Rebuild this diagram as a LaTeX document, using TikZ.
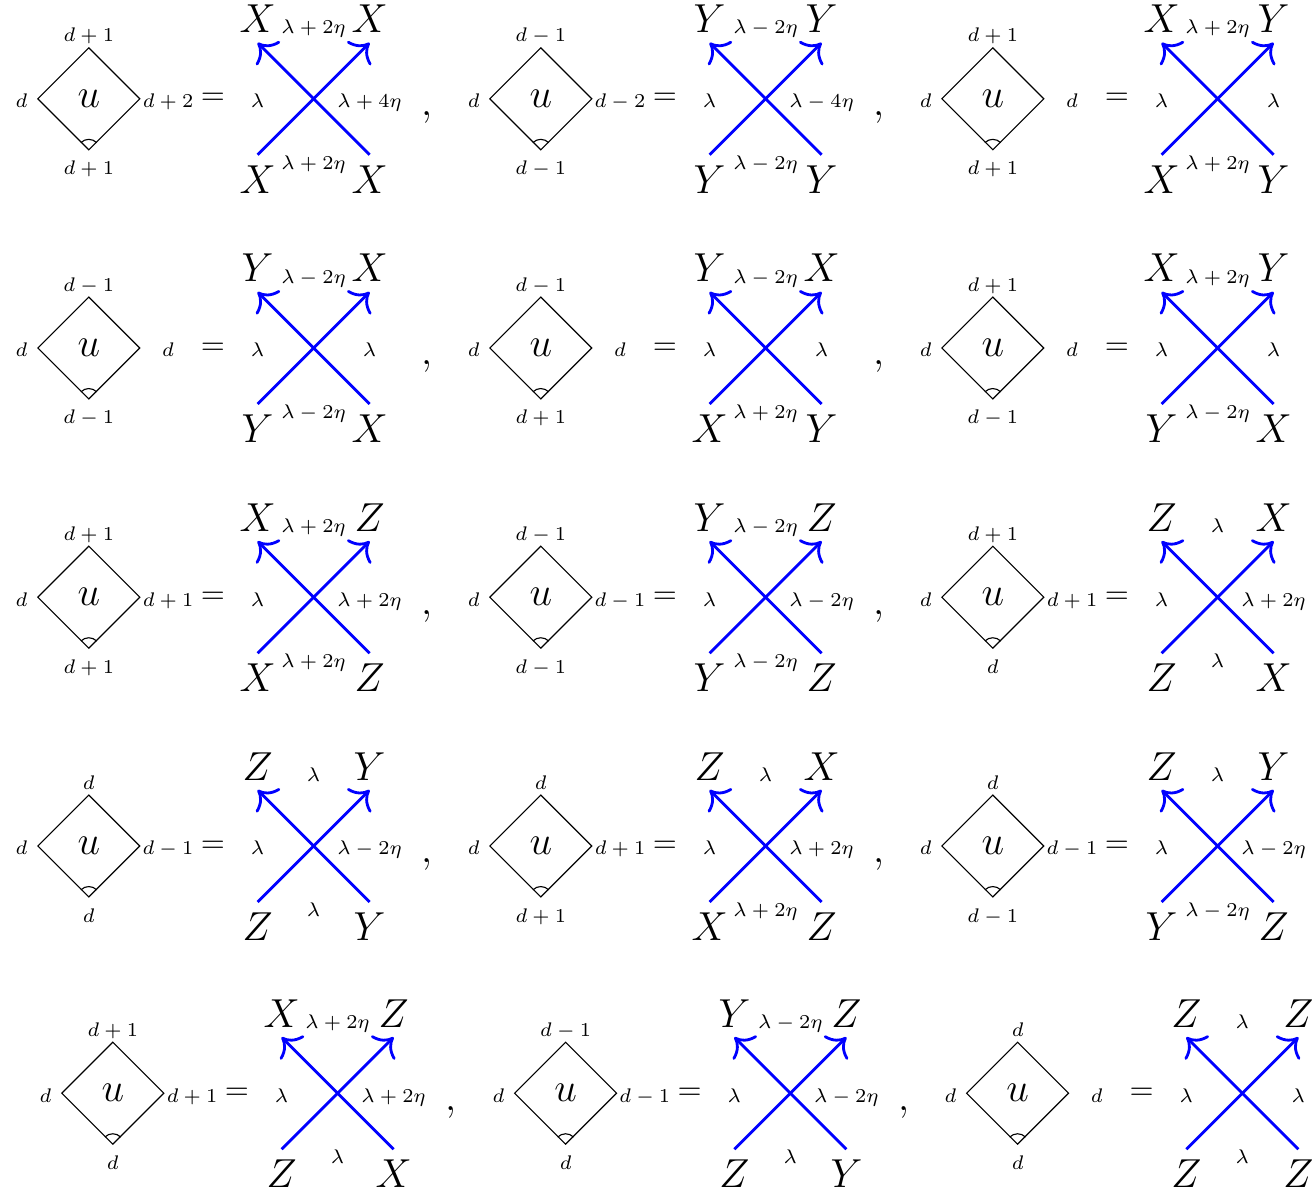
\RequirePackage{fix-cm}
\documentclass[tikz,border=0pt]{standalone}
\usetikzlibrary{shapes.geometric,arrows.meta}

\tikzset{
  face/.style={draw, shape=diamond, aspect=1, inner sep=0pt, minimum size=1.28cm, font=\Large},
  hlab/.style={inner sep=0pt, font=\scriptsize},
  eqsign/.style={inner sep=0pt, font=\fontsize{11}{13}\selectfont},
  sepcomma/.style={inner sep=0pt, font=\Large},
  corner/.style={inner sep=0pt, font=\Large},
  strand/.style={blue, line width=1pt, -{To[scale=1.5]}},
}

% face with its heights: name, position, top, bottom, right
\newcommand{\plaq}[5]{%
  \node[face] (#1) at (#2) {$u$};
  \draw ([shift={(45:0.14)}]#1.south) arc (45:135:0.14);
  \node[hlab, anchor=base] (#1t) at ([yshift=0.71cm]#1.center) {$#3$};
  \node[hlab, anchor=base] (#1b) at ([yshift=-0.95cm]#1.center) {$#4$};
  \node[hlab, anchor=base] (#1l) at ([shift={(-0.84,-0.11)}]#1.center) {$d$};
  \node[hlab, anchor=base] (#1r) at ([shift={(0.99,-0.11)}]#1.center) {$#5$};
  \node[eqsign, anchor=base] (#1e) at ([shift={(1.55,-0.075)}]#1.center) {$=$};
}

% two crossing strands with their weights:
% name, position, corners (nw, ne, sw, se), weights (top, bottom, right)
\newcommand{\wcross}[9]{%
  \coordinate (#1) at (#2);
  \coordinate (#1sw) at ([shift={(-0.7,-0.7)}]#1);
  \coordinate (#1se) at ([shift={(0.7,-0.7)}]#1);
  \coordinate (#1nw) at ([shift={(-0.7,0.7)}]#1);
  \coordinate (#1ne) at ([shift={(0.7,0.7)}]#1);
  \draw[strand] (#1sw) -- (#1ne);
  \draw[strand] (#1se) -- (#1nw);
  \node[corner, anchor=base] (#1a) at ([yshift=0.125cm]#1nw) {$#3$};
  \node[corner, anchor=base] (#1b) at ([yshift=0.125cm]#1ne) {$#4$};
  \node[corner, anchor=north] (#1c) at ([yshift=-0.125cm]#1sw) {$#5$};
  \node[corner, anchor=north] (#1d) at ([yshift=-0.125cm]#1se) {$#6$};
  \node[hlab, anchor=base] (#1t) at ([yshift=0.81cm]#1) {$#7$};
  \node[hlab, anchor=north] (#1u) at ([yshift=-0.7cm]#1) {$#8$};
  \node[hlab, anchor=base] (#1l) at ([shift={(-0.7,-0.11)}]#1) {$\lambda$};
  \node[hlab, anchor=base] (#1r) at ([shift={(0.7,-0.11)}]#1) {$#9$};
}

\begin{document}
\begin{tikzpicture}
  \useasboundingbox (0,0) rectangle (16.425,14.825);

  % first row
  \plaq{p1}{1.11,13.59}{d+1}{d+1}{d+2}
  \wcross{x1}{[xshift=2.81cm]p1.center}{X}{X}{X}{X}{\lambda+2\eta}{\lambda+2\eta}{\lambda+4\eta}
  \plaq{p2}{6.76,13.59}{d-1}{d-1}{d-2}
  \wcross{x2}{[xshift=2.81cm]p2.center}{Y}{Y}{Y}{Y}{\lambda-2\eta}{\lambda-2\eta}{\lambda-4\eta}
  \plaq{p3}{12.41,13.59}{d+1}{d+1}{d}
  \wcross{x3}{[xshift=2.81cm]p3.center}{X}{Y}{X}{Y}{\lambda+2\eta}{\lambda+2\eta}{\lambda}

  % second row
  \plaq{p4}{1.11,10.475}{d-1}{d-1}{d}
  \wcross{x4}{[xshift=2.81cm]p4.center}{Y}{X}{Y}{X}{\lambda-2\eta}{\lambda-2\eta}{\lambda}
  \plaq{p5}{6.76,10.475}{d-1}{d+1}{d}
  \wcross{x5}{[xshift=2.81cm]p5.center}{Y}{X}{X}{Y}{\lambda-2\eta}{\lambda+2\eta}{\lambda}
  \plaq{p6}{12.41,10.475}{d+1}{d-1}{d}
  \wcross{x6}{[xshift=2.81cm]p6.center}{X}{Y}{Y}{X}{\lambda+2\eta}{\lambda-2\eta}{\lambda}

  % third row
  \plaq{p7}{1.11,7.36}{d+1}{d+1}{d+1}
  \wcross{x7}{[xshift=2.81cm]p7.center}{X}{Z}{X}{Z}{\lambda+2\eta}{\lambda+2\eta}{\lambda+2\eta}
  \plaq{p8}{6.76,7.36}{d-1}{d-1}{d-1}
  \wcross{x8}{[xshift=2.81cm]p8.center}{Y}{Z}{Y}{Z}{\lambda-2\eta}{\lambda-2\eta}{\lambda-2\eta}
  \plaq{p9}{12.41,7.36}{d+1}{d}{d+1}
  \wcross{x9}{[xshift=2.81cm]p9.center}{Z}{X}{Z}{X}{\lambda}{\lambda}{\lambda+2\eta}

  % fourth row
  \plaq{p10}{1.11,4.25}{d}{d}{d-1}
  \wcross{x10}{[xshift=2.81cm]p10.center}{Z}{Y}{Z}{Y}{\lambda}{\lambda}{\lambda-2\eta}
  \plaq{p11}{6.76,4.25}{d}{d+1}{d+1}
  \wcross{x11}{[xshift=2.81cm]p11.center}{Z}{X}{X}{Z}{\lambda}{\lambda+2\eta}{\lambda+2\eta}
  \plaq{p12}{12.41,4.25}{d}{d-1}{d-1}
  \wcross{x12}{[xshift=2.81cm]p12.center}{Z}{Y}{Y}{Z}{\lambda}{\lambda-2\eta}{\lambda-2\eta}

  % last row, shifted a little to the right
  \plaq{p13}{1.41,1.16}{d+1}{d}{d+1}
  \wcross{x13}{[xshift=2.81cm]p13.center}{X}{Z}{Z}{X}{\lambda+2\eta}{\lambda}{\lambda+2\eta}
  \plaq{p14}{7.07,1.16}{d-1}{d}{d-1}
  \wcross{x14}{[xshift=2.81cm]p14.center}{Y}{Z}{Z}{Y}{\lambda-2\eta}{\lambda}{\lambda-2\eta}
  \plaq{p15}{12.72,1.16}{d}{d}{d}
  \wcross{x15}{[xshift=2.81cm]p15.center}{Z}{Z}{Z}{Z}{\lambda}{\lambda}{\lambda}

  % commas between the equations
  \foreach \p in {p1,p2,p4,p5,p7,p8,p10,p11,p13,p14}
    \node[sepcomma, anchor=base] (c\p) at ([shift={(4.225,-0.21)}]\p.center) {,};
\end{tikzpicture}
\end{document}
